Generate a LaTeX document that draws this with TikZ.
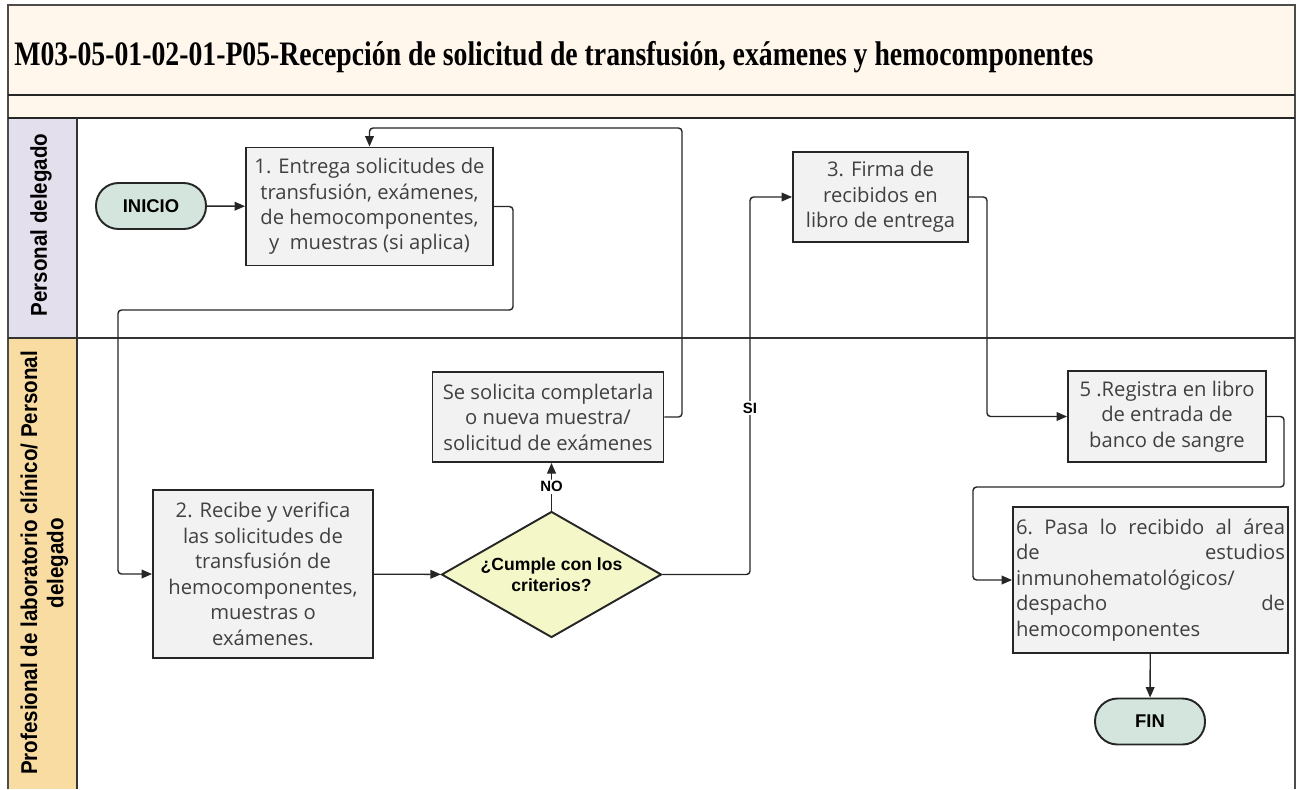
\documentclass[tikz,border=0pt]{standalone}
\usepackage{fontspec}
\setmainfont{Open Sans}
\newfontfamily\titlefont{Liberation Serif}
\newfontfamily\lanefont{Liberation Sans}
\usepackage{tikz}
\usetikzlibrary{arrows.meta, positioning, shapes.geometric, calc}

\definecolor{crema}{HTML}{FFF6EC}
\definecolor{lila}{HTML}{E4DFEC}
\definecolor{naranja}{HTML}{F9DCA2}
\definecolor{verdeterm}{HTML}{D3E5DC}
\definecolor{grisbox}{HTML}{F2F2F2}
\definecolor{amarillo}{HTML}{F4F7C8}
\definecolor{textogris}{HTML}{404040}
\definecolor{borde}{HTML}{262626}

\begin{document}
\begin{tikzpicture}[x=0.02cm, y=-0.02cm,
    proc/.style={rectangle, draw=borde, line width=1.1pt, fill=grisbox, text=textogris,
      font=\fontsize{11.5}{14.5}\selectfont, align=center, inner sep=1pt},
    term/.style={rectangle, rounded corners=0.45cm, draw=borde, line width=1.1pt, fill=verdeterm,
      minimum width=2.2cm, minimum height=0.92cm, font=\lanefont\bfseries\fontsize{10.5}{12}\selectfont},
    decision/.style={diamond, draw=borde, line width=1.1pt, fill=amarillo, aspect=1.73, inner sep=0pt,
      minimum width=4.4cm, minimum height=2.52cm, align=center,
      font=\lanefont\bfseries\fontsize{10}{11.7}\selectfont},
    lbl/.style={font=\lanefont\bfseries\fontsize{8.5}{10}\selectfont, inner sep=1pt},
    lane/.style={rotate=90, align=center, font=\lanefont\bfseries\fontsize{13}{15}\selectfont},
    flow/.style={-{Triangle[length=6pt,width=5pt]}, line width=0.8pt, draw=borde, rounded corners=2pt}]

  \useasboundingbox (0,0) rectangle (1297,789);

  \fill[crema] (8,5) rectangle (1295,118);
  \fill[lila] (8,118) rectangle (77,338);
  \fill[naranja] (8,338) rectangle (77,789);
  \draw[line width=1pt, black!70] (8,789) -- (8,5) -- (1295,5) -- (1295,789);
  \draw[line width=1.3pt, black!85] (8,95) -- (1295,95);
  \draw[line width=1.3pt, black!85] (8,118) -- (1295,118);
  \draw[line width=1pt, black!80] (8,338) -- (1295,338);
  \draw[line width=1pt, black!80] (77,118) -- (77,789);

  \node[anchor=west, inner sep=0pt] (titulo) at (14,57)
    {\scalebox{0.81}[1]{\titlefont\bfseries\fontsize{19.5}{22}\selectfont M03-05-01-02-01-P05-Recepción de solicitud de transfusión, exámenes y hemocomponentes}};

  \node[lane] (carril1) at (41,225) {\scalebox{0.9}[1]{Personal delegado}};
  \node[lane] (carril2) at (45,563)
    {\scalebox{0.9}[1]{\begin{tabular}{@{}c@{}}Profesional de laboratorio clínico/ Personal\\delegado\end{tabular}}};

  \node[term] (inicio) at (151,206) {INICIO};
  \node[proc, minimum width=4.94cm, minimum height=2.36cm] (p1) at (369.5,206.5)
    {1. Entrega solicitudes de\\transfusión, exámenes,\\de hemocomponentes,\\y\ \ muestras (si aplica)};
  \node[proc, minimum width=3.5cm, minimum height=1.8cm] (p3) at (880.5,197)
    {3. Firma de\\recibidos en\\libro de entrega};
  \node[proc, minimum width=4.62cm, minimum height=1.8cm] (pno) at (548,417)
    {Se solicita completarla\\o nueva muestra/\\solicitud de exámenes};
  \node[proc, minimum width=4.4cm, minimum height=3.36cm] (p2) at (263,574)
    {2. Recibe y verifica\\las solicitudes de\\transfusión de\\hemocomponentes,\\muestras o\\exámenes.};
  \node[decision] (dec) at (551.5,574.5) {¿Cumple con los\\criterios?};
  \node[proc, minimum width=3.96cm, minimum height=1.82cm] (p5) at (1167,416.5)
    {5 .Registra en libro\\de entrada de\\banco de sangre};
  \node[proc, minimum width=5.5cm, minimum height=2.92cm, text width=5.38cm, align=left] (p6) at (1150.5,580)
    {6.\hfill Pasa\hfill lo\hfill recibido\hfill al\hfill área\\
     de\hfill estudios\\
     inmunohematológicos/\\
     despacho\hfill de\\
     hemocomponentes};
  \node[term] (fin) at (1150,721.5) {FIN};

  \draw[flow] (inicio) -- (p1);
  \draw[flow] (p1.east) -| (513,310) -- (118,310) |- (p2.west);
  \draw[flow] (p2) -- (dec);
  \draw[flow] (dec.north) -- node[lbl, fill=white] (no) {NO} (pno.south -| dec.north);
  \draw[flow] (pno.east) -| (682,128) -| (p1.north);
  \draw[flow] (dec.east) -| (750,300) |- (p3.west);
  \node[lbl, fill=white] (si) at (750,408) {SI};
  \draw[flow] (p3.east) -| (987,300) |- (p5.west);
  \draw[flow] (p5.east) -| (1284,487) -- (973,487) |- (p6.west);
  \draw[flow] (p6) -- (fin);
\end{tikzpicture}
\end{document}
